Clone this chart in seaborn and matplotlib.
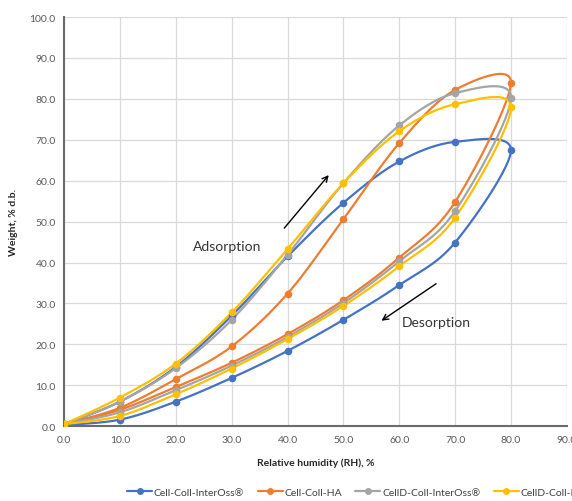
import numpy as np
import pandas as pd
import matplotlib
matplotlib.use("Agg")
import matplotlib.pyplot as plt
from matplotlib.lines import Line2D
import seaborn as sns

# ---- data ----
rh_ads = [0, 10, 20, 30, 40, 50, 60, 70, 80]
rh_des = [70, 60, 50, 40, 30, 20, 10, 0]

series_names = ["Cell-Coll-InterOss\u00ae", "Cell-Coll-HA",
                "CellD-Coll-InterOss\u00ae", "CellD-Coll-HA"]

blue_ads = [0.5, 6.0, 14.5, 27.0, 41.5, 54.6, 64.7, 69.5, 67.5]
blue_des = [44.9, 34.5, 26.0, 18.4, 11.8, 6.0, 1.6, 0.3]
orange_ads = [0.5, 4.5, 11.5, 19.5, 32.4, 50.6, 69.2, 82.2, 84.0]
orange_des = [54.8, 41.2, 30.8, 22.5, 15.5, 9.6, 4.0, 0.5]
gray_ads = [0.5, 6.0, 14.2, 26.0, 41.9, 59.4, 73.5, 81.4, 80.3]
gray_des = [52.6, 40.3, 30.1, 21.8, 14.8, 8.8, 3.4, 0.5]
yellow_ads = [0.5, 7.0, 15.3, 27.8, 43.3, 59.4, 72.1, 78.7, 77.9]
yellow_des = [51.0, 39.1, 29.4, 21.3, 14.1, 7.8, 2.5, 0.5]

x_ticks = [0, 10, 20, 30, 40, 50, 60, 70, 80, 90]
y_ticks = [0, 10, 20, 30, 40, 50, 60, 70, 80, 90, 100]

colors = ["#4472C4", "#ED7D31", "#A5A5A5", "#FFC000"]
ads_all = [blue_ads, orange_ads, gray_ads, yellow_ads]
des_all = [blue_des, orange_des, gray_des, yellow_des]

rows = []
for name, a, d in zip(series_names, ads_all, des_all):
    for i, (x, y) in enumerate(zip(rh_ads, a)):
        rows.append(dict(series=name, rh=x, w=y, order=i))
    for j, (x, y) in enumerate(zip(rh_des, d)):
        rows.append(dict(series=name, rh=x, w=y, order=len(rh_ads) + j))
df = pd.DataFrame(rows)


def smooth(px, py, n=30):
    P = np.column_stack([px, py]).astype(float)
    m = len(P)
    out = []
    for i in range(m - 1):
        p0 = P[i - 1] if i > 0 else P[i]
        p1 = P[i]
        p2 = P[i + 1]
        p3 = P[i + 2] if i + 2 < m else P[i + 1]
        b1 = p1 + (p2 - p0) / 6.0
        b2 = p2 - (p3 - p1) / 6.0
        t = np.linspace(0, 1, n)[:, None]
        seg = ((1 - t) ** 3) * p1 + 3 * ((1 - t) ** 2) * t * b1 + 3 * (1 - t) * t ** 2 * b2 + t ** 3 * p2
        out.append(seg if i == 0 else seg[1:])
    S = np.vstack(out)
    return S[:, 0], S[:, 1]


sns.set_style("whitegrid")
plt.rcParams["font.family"] = ["Lato", "DejaVu Sans"]

fig = plt.figure(figsize=(5.72, 5.02), dpi=100)
ax = fig.add_axes([0.112, 0.149, 0.879, 0.815])

for name, col in zip(series_names, colors):
    sub = df[df.series == name].sort_values("order")
    sx, sy = smooth(sub.rh.values, sub.w.values)
    ax.plot(sx, sy, color=col, lw=1.6, zorder=3, solid_capstyle="round")
    sns.scatterplot(data=sub, x="rh", y="w", color=col, s=30, edgecolor=col,
                    linewidth=0, ax=ax, zorder=4, legend=False)

ax.set_xlim(0, 90)
ax.set_ylim(0, 100)
ax.set_xticks(x_ticks)
ax.set_yticks(y_ticks)
ax.set_xticklabels([f"{v:.1f}" for v in x_ticks])
ax.set_yticklabels([f"{v:.1f}" for v in y_ticks])
ax.tick_params(axis="both", labelsize=7.5, colors="#595959", length=0, pad=6)
ax.grid(True, color="#D9D9D9", lw=0.9)
ax.set_axisbelow(True)
for s in ["top", "right"]:
    ax.spines[s].set_visible(False)
for s in ["left", "bottom"]:
    ax.spines[s].set_visible(True)
    ax.spines[s].set_color("#6b6b6b")
    ax.spines[s].set_linewidth(1.5)

ax.set_xlabel("Relative humidity (RH), %", fontsize=7.5, fontweight="bold",
              color="#262626", labelpad=10)
ax.set_ylabel("Weight, % d.b.", fontsize=7.5, fontweight="bold",
              color="#262626", labelpad=8)

# annotations
ax.annotate("", xy=(47.7, 61.9), xytext=(39.1, 47.9),
            arrowprops=dict(arrowstyle="->", color="black", lw=1.0))
ax.text(23.0, 44.0, "Adsorption", fontsize=10, color="#333333", va="center", ha="left")
ax.annotate("", xy=(56.4, 25.4), xytext=(67.0, 35.2),
            arrowprops=dict(arrowstyle="->", color="black", lw=1.0))
ax.text(60.4, 25.4, "Desorption", fontsize=10, color="#333333", va="center", ha="left")

handles = [Line2D([0], [0], color=c, lw=1.6, marker="o", markersize=5,
                  markeredgewidth=0) for c in colors]
fig.legend(handles, series_names, loc="center left",
           bbox_to_anchor=(118 / 572, 1 - 493 / 502), ncol=4, frameon=False,
           fontsize=7.5, handlelength=2.4, handletextpad=0.15, columnspacing=1.3,
           labelcolor="#404040")

fig.savefig("out.png", dpi=100)
